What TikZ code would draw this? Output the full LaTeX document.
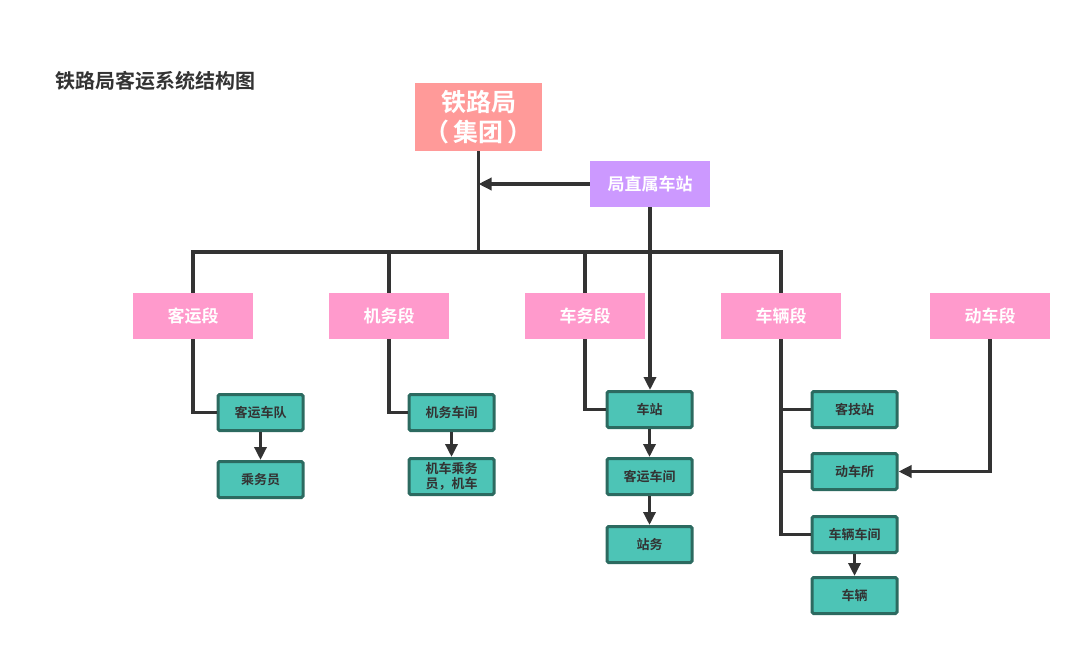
\documentclass[tikz,border=0pt]{standalone}
\usepackage{fontspec}
\setmainfont{Noto Sans CJK SC}[BoldFont={Noto Sans CJK SC Bold}]
\usetikzlibrary{arrows.meta}
\definecolor{jtred}{HTML}{FF9A99}
\definecolor{zspurple}{HTML}{CC99FF}
\definecolor{duanpink}{HTML}{FF9ACC}
\definecolor{tealfill}{HTML}{4DC4B6}
\definecolor{tealborder}{HTML}{2C6A60}
\definecolor{linegray}{HTML}{333333}
\tikzset{
  topbox/.style={fill=jtred, draw=none, minimum width=127pt, minimum height=68pt, text=white, font=\bfseries\fontsize{25}{30}\selectfont, align=center, inner sep=0pt},
  zsbox/.style={fill=zspurple, draw=none, minimum width=120pt, minimum height=46pt, text=white, font=\bfseries\fontsize{17}{20}\selectfont, inner sep=0pt},
  duanbox/.style={fill=duanpink, draw=none, minimum width=120pt, minimum height=46pt, text=white, font=\bfseries\fontsize{17}{20}\selectfont, inner sep=0pt},
  unitbox/.style={fill=tealfill, draw=tealborder, line width=3pt, rounded corners=1.5pt, minimum width=85pt, minimum height=36pt, text=linegray, font=\bfseries\fontsize{13}{15}\selectfont, align=center, inner sep=0pt},
  conn/.style={draw=linegray, line width=3.5pt},
  arr/.style={conn, -{Triangle[length=13pt,width=12pt]}},
}
\begin{document}
\begin{tikzpicture}[x=1pt,y=-1pt]
\useasboundingbox (0,0) rectangle (1081,646);
\node[anchor=west, text=linegray, font=\bfseries\fontsize{20}{24}\selectfont, inner sep=0pt] (title) at (55,81) {铁路局客运系统结构图};

\node[topbox] (jt) at (478.5,117) {铁路局\\（\,集团\,）};
\node[zsbox] (zs) at (650,184) {局直属车站};

\node[duanbox] (ky) at (193,316) {客运段};
\node[duanbox] (jw) at (389,316) {机务段};
\node[duanbox] (cw) at (585,316) {车务段};
\node[duanbox] (cl) at (781,316) {车辆段};
\node[duanbox] (dc) at (990,316) {动车段};

\node[unitbox] (kycd) at (260.5,412.5) {客运车队};
\node[unitbox] (cwy) at (260.5,479.5) {乘务员};
\node[unitbox] (jwcj) at (451.5,412.5) {机务车间};
\node[unitbox] (jccw) at (451.5,476.5) {机车乘务\\员，机车};
\node[unitbox] (cz) at (649.5,409.5) {车站};
\node[unitbox] (kycj) at (649.5,476.5) {客运车间};
\node[unitbox] (zw) at (649.5,544.5) {站务};
\node[unitbox] (kjz) at (854.5,409.5) {客技站};
\node[unitbox] (dcs) at (854.5,471.5) {动车所};
\node[unitbox] (clcj) at (854.5,534.5) {车辆车间};
\node[unitbox] (clv) at (854.5,595.5) {车辆};

\coordinate (bus) at (0,252);

% trunk and bus
\draw[conn] (jt.south) -- (jt.south |- bus);
\draw[conn] (ky.north) -- (ky.north |- bus) -- (cl.north |- bus) -- (cl.north);
\draw[conn] (jw.north) -- (jw.north |- bus);
\draw[conn] (cw.north) -- (cw.north |- bus);

% direct station
\draw[arr] (zs.west) -- (zs.west -| jt.south);
\draw[arr] (zs.south) -- (zs.south |- cz.north);

% duan to units
\draw[conn] (ky.south) |- (kycd.west);
\draw[conn] (jw.south) |- (jwcj.west);
\draw[conn] (cw.south) |- (cz.west);
\draw[conn] (cl.south) |- (clcj.west);
\draw[conn] (cl.south |- kjz.west) -- (kjz.west);
\draw[conn] (cl.south |- dcs.west) -- (dcs.west);
\draw[arr] (dc.south) |- (dcs.east);

% unit chains
\draw[arr] (kycd.south) -- (cwy.north);
\draw[arr] (jwcj.south) -- (jccw.north);
\draw[arr] (cz.south) -- (kycj.north);
\draw[arr] (kycj.south) -- (zw.north);
\draw[arr] (clcj.south) -- (clv.north);
\end{tikzpicture}
\end{document}
